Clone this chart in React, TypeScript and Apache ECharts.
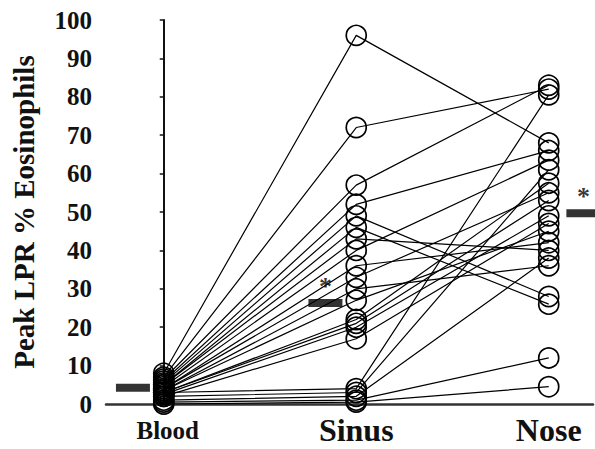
import React, { useEffect, useRef } from "react";
import * as echarts from "echarts";

// Categories and tick labels
const categories = ["Blood", "Sinus", "Nose"];
const yTicks = [0, 10, 20, 30, 40, 50, 60, 70, 80, 90, 100];

// One value per patient for each site (same index = same patient)
const blood = [8, 7, 6.5, 6, 5.5, 5, 5, 4.5, 4, 4, 3.5, 3.5, 3, 3, 2.5, 2, 3, 2, 1, 0.5, 0];
const sinus = [96, 72, 57, 52, 49, 46, 43, 40, 36, 33, 30, 27, 22, 21, 20, 17, 4, 3, 2, 1, 0.5];
const nose = [68, 82, 83, 66, 28, 26, 40, 63.5, 42, 55, 36, 45, 57.5, 53, 49, 47, 80.5, 61, 38, 12, 4.5];

// Group means and significance marks
const means = [4.2, 26.3, 49.7];
const significance = ["", "*", "*"];

const SERIF = "'Liberation Serif', 'Times New Roman', serif";

export default function App() {
  const ref = useRef<HTMLDivElement>(null);

  useEffect(() => {
    if (!ref.current) return;
    const chart = echarts.init(ref.current, undefined, { renderer: "svg" });

    const patientSeries = blood.map((b, i) => ({
      type: "line",
      data: [
        [0, b],
        [1, sinus[i]],
        [2, nose[i]],
      ],
      symbol: "circle",
      symbolSize: 20,
      showSymbol: true,
      lineStyle: { color: "#000", width: 1.2 },
      itemStyle: { color: "rgba(0,0,0,0)", borderColor: "#000", borderWidth: 1.7 },
      emphasis: { disabled: true },
      z: 2,
    }));

    // mean bars are drawn beside each category (left of Blood/Sinus, right of Nose)
    const meanOffset = [-0.16, -0.16, 0.18];
    const meanSeries = {
      type: "scatter",
      data: means.map((m, i) => [i + meanOffset[i], m]),
      symbol: "rect",
      symbolSize: [34, 8],
      itemStyle: { color: "#000" },
      clip: false,
      label: {
        show: true,
        position: "top",
        distance: 0,
        formatter: (p: any) => significance[p.dataIndex],
        fontSize: 26,
        fontWeight: "bold",
        fontFamily: SERIF,
        color: "#000",
      },
      z: 3,
    };

    chart.setOption({
      animation: false,
      backgroundColor: "#fff",
      grid: { left: 106, right: 2, top: 20, bottom: 45 },
      xAxis: {
        type: "value",
        min: -0.3,
        max: 2.23,
        splitLine: { show: false },
        axisTick: { show: false },
        axisLine: { show: true, onZero: false, lineStyle: { color: "#333", width: 2.5 } },
        axisLabel: {
          show: true,
          customValues: [0, 1, 2],
          margin: 10,
          formatter: (v: number) => {
            const i = Math.round(v);
            return i === 0 ? `{s|${categories[i]}}` : `{l|${categories[i]}}`;
          },
          rich: {
            s: { fontSize: 25, fontWeight: "bold", fontFamily: SERIF, color: "#111", padding: [4, 0, 0, 8] },
            l: { fontSize: 32, fontWeight: "bold", fontFamily: SERIF, color: "#111" },
          },
        },
      },
      yAxis: {
        type: "value",
        min: yTicks[0],
        max: yTicks[yTicks.length - 1],
        interval: 10,
        splitLine: { show: false },
        axisLine: { show: true, lineStyle: { color: "#111", width: 2 } },
        axisTick: { show: true, length: 4, lineStyle: { color: "#111", width: 1.5 } },
        axisLabel: {
          margin: 14,
          fontSize: 25,
          fontWeight: "bold",
          fontFamily: SERIF,
          color: "#111",
        },
        name: "Peak LPR % Eosinophils",
        nameLocation: "middle",
        nameGap: 68,
        nameTextStyle: {
          fontSize: 29,
          fontWeight: "bold",
          fontFamily: SERIF,
          color: "#111",
        },
      },
      series: [...patientSeries, meanSeries],
    } as any);

    return () => chart.dispose();
  }, []);

  return (
    <div
      ref={ref}
      style={{ position: "absolute", left: 0, top: 0, width: 595, height: 449 }}
    />
  );
}
